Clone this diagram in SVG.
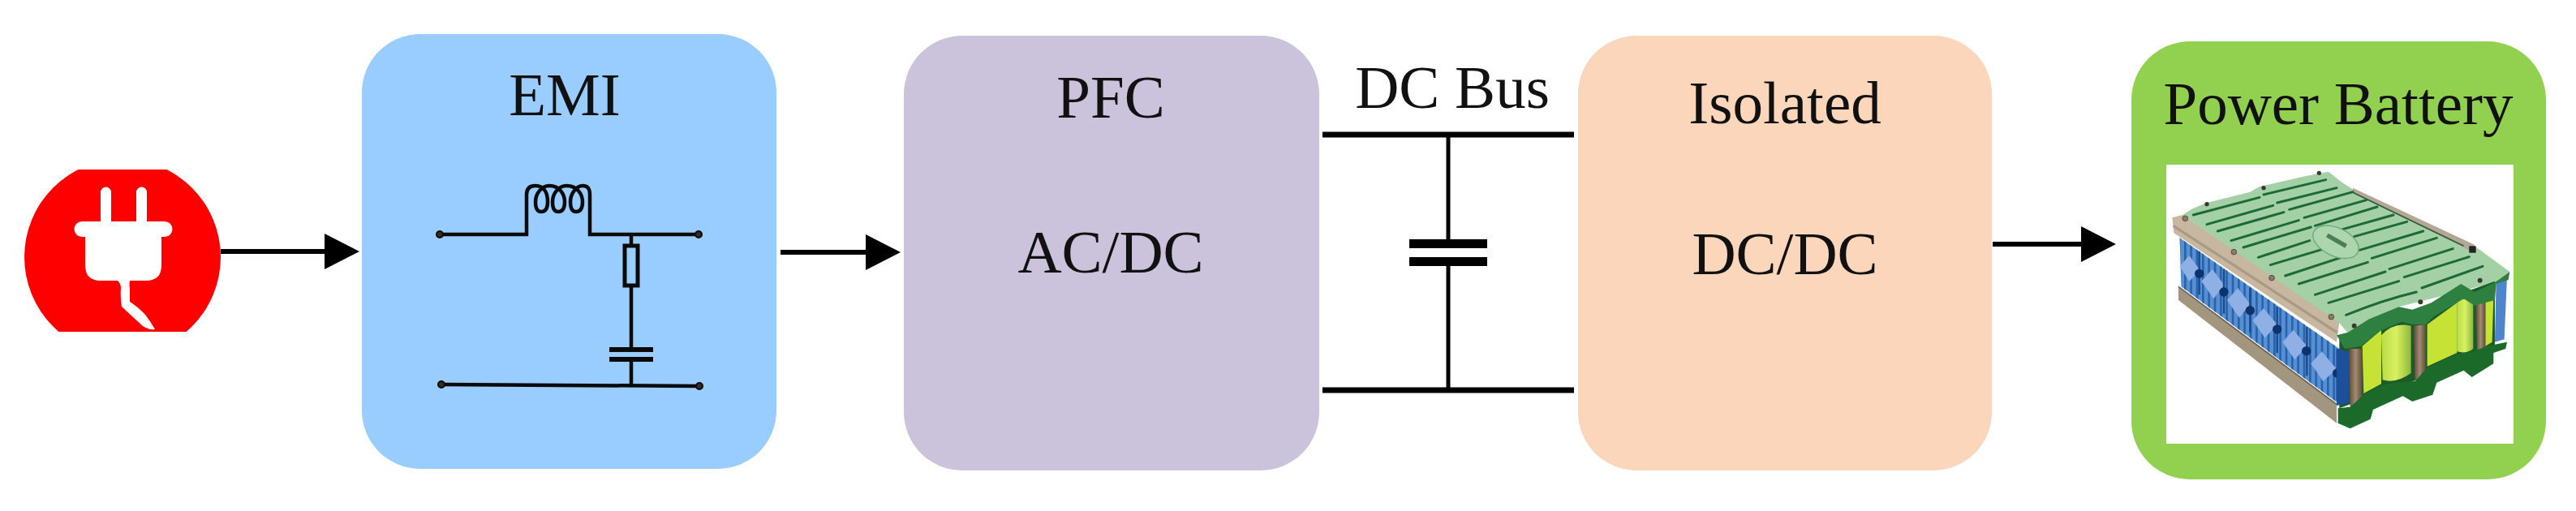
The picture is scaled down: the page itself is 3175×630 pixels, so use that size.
<svg xmlns="http://www.w3.org/2000/svg" width="3175" height="630" viewBox="0 0 3175 630">
<defs>
<marker id="ah" markerUnits="userSpaceOnUse" markerWidth="44" markerHeight="44" refX="0" refY="22" orient="auto"><path d="M0 0L43 22L0 44Z" fill="#000"/></marker>
<clipPath id="plugclip"><rect x="20" y="209" width="260" height="200"/></clipPath>
<pattern id="st" width="22" height="10" patternUnits="userSpaceOnUse"><rect width="8" height="10" fill="#2c62aa"/></pattern>
<linearGradient id="cyl" x1="0" x2="1" y1="0" y2="0"><stop offset="0" stop-color="#b8dc45"/><stop offset=".5" stop-color="#d9f060"/><stop offset="1" stop-color="#8fb83c"/></linearGradient>
<linearGradient id="post" x1="0" x2="1" y1="0" y2="0"><stop offset="0" stop-color="#5f4a38"/><stop offset=".5" stop-color="#a08a72"/><stop offset="1" stop-color="#5f4a38"/></linearGradient>
<filter id="soft" x="-5%" y="-5%" width="110%" height="110%"><feGaussianBlur stdDeviation="2"/></filter>
</defs>
<style>
text{font-family:"Liberation Serif","Times New Roman",serif;font-size:75px;fill:#111;text-anchor:middle}
.w{fill:none;stroke:#0a0a0a;stroke-width:4.500}
.b{fill:none;stroke:#000;stroke-width:7}
.a{stroke:#000;stroke-width:6;fill:none;marker-end:url(#ah)}
.dot{fill:#3a2a20;stroke:#0a0a0a;stroke-width:2}
.slot{stroke:#1d6a36;stroke-width:9;stroke-linecap:round;fill:none}
.label{fill:#c6e236}
.cyl{fill:url(#cyl)}
.post{fill:url(#post)}
.screw{fill:#3a3a30}
.rivet{fill:#8a7a66;stroke:#5a4c3c;stroke-width:3}
</style>
<rect width="3175" height="630" fill="#fff"/>
<g id="plug">
<circle cx="151" cy="317" r="121" fill="#f00" clip-path="url(#plugclip)"/>
<path d="M124 273V237a6.500 6.500 0 0 1 13 0V273H168V237a6.500 6.500 0 0 1 13 0V273H203a9.500 9.500 0 0 1 0 19H199V327Q199 346 180 346H160Q159 352 160 355V372Q172 380 179 388Q186 397 191 406Q183 407 176 402Q165 392 150 378Q148 365 149 355Q149 350 145 346H124Q105 346 105 327V292H101a9.500 9.500 0 0 1 0-19Z" fill="#fff"/>
</g>
<g id="emi">
<rect x="446" y="42" width="511" height="536" rx="72" fill="#99ccff"/>
<text x="696" y="142">EMI</text>
<path class="w" d="M542 289H649V240C649 232 653 229 660 229C672 229 675 240 675 249C675 258 672 261 667 261C662 261 660 256 660 249C660 238 668 229 677 229C690 229 696 240 696 249C696 258 693 261 688 261C683 261 681 256 681 249C681 238 689 229 698 229C712 229 718 240 718 249C718 258 715 261 710 261C705 261 703 256 703 249C703 238 711 229 718 229C724 229 727 232 727 240V289H861"/>
<path class="w" d="M778 289V302M778 353V431M778 443V475M544 474L862 476"/>
<rect x="770" y="303" width="16" height="49" fill="none" stroke="#0a0a0a" stroke-width="5"/>
<path d="M751 431H805M751 443H805" fill="none" stroke="#0a0a0a" stroke-width="6"/>
<circle class="dot" cx="542" cy="289" r="4"/><circle class="dot" cx="861" cy="289" r="4"/><circle class="dot" cx="544" cy="474" r="4"/><circle class="dot" cx="862" cy="476" r="4"/>
</g>
<g id="pfc">
<rect x="1114" y="44" width="512" height="536" rx="72" fill="#cbc2dc"/>
<text x="1369" y="145">PFC</text>
<text x="1369" y="336">AC/DC</text>
</g>
<g id="dcbus">
<text x="1790" y="133">DC Bus</text>
<path class="b" d="M1630 166H1940M1630 481H1940"/>
<path d="M1785 166V296M1785 327V481" fill="none" stroke="#000" stroke-width="5"/>
<rect x="1737" y="295" width="96" height="11"/><rect x="1737" y="317" width="96" height="11"/>
</g>
<g id="isolated">
<rect x="1945" y="44" width="510" height="536" rx="72" fill="#fbd6ba"/>
<text x="2200" y="152">Isolated</text>
<text x="2200" y="338">DC/DC</text>
</g>
<g id="battery">
<rect x="2627" y="51" width="511" height="540" rx="72" fill="#92d050"/>
<text x="2882" y="153">Power Battery</text>
<rect x="2670" y="203" width="428" height="344" fill="#fff"/>
<g transform="translate(2670 200) scale(.3333)" >
<g filter="url(#soft)">
<path d="M50 280L640 690V895L55 460Z" fill="#5590d4"/>
<path d="M50 280L640 690V895L55 460Z" fill="url(#st)"/>
<path d="M50 385L85 345L125 400L85 440ZM130 440L170 395L215 455L175 505ZM225 510L265 465L310 525L270 575ZM320 585L360 540L410 600L365 650ZM430 665L470 620L520 680L475 730ZM535 745L575 700L630 765L580 810Z" fill="#8fb0e4"/>
<path d="M122 330V490M213 395V560M310 465V630M410 535V705M520 610V790M632 690V880" stroke="#1a4888" stroke-width="7" fill="none"/>
<g fill="#10306c"><circle cx="122" cy="412" r="17"/><circle cx="213" cy="480" r="17"/><circle cx="310" cy="548" r="17"/><circle cx="410" cy="618" r="17"/><circle cx="518" cy="698" r="17"/><circle cx="632" cy="780" r="17"/></g>
<path d="M45 460L630 895V965L45 510Z" fill="#a3967e"/>
<path d="M45 460L630 895" stroke="#6e6250" stroke-width="5" fill="none"/>
<path d="M22 205L60 195L640 590L630 665L28 262Z" fill="#c7b6a0"/>
<path d="M26 235L632 630" stroke="#ab9a84" stroke-width="10" fill="none"/>
<path d="M100 170L150 150L310 110L345 90L520 50L600 35L650 75L690 100L1140 310L1270 405L1215 445L860 535L750 580L670 630L640 595L60 195Z" fill="#a4d0a6"/>
<path d="M690 95L1140 305L1135 335L1090 310L690 112Z" fill="#b5a795"/>
<path d="M690 112L1100 310" stroke="#2d5a38" stroke-width="5" fill="none"/>
<rect x="1120" y="310" width="25" height="25" fill="#222"/>
<path d="M640 650L1215 440V700L640 910Z" fill="#1c5a2a"/>
<path class="label" d="M725 680L795 620V820L730 855Z"/>
<path class="cyl" d="M795 640Q840 590 905 605V780Q850 820 800 805Z"/>
<path class="label" d="M965 600L1075 520V705L965 755Z"/>
<path class="cyl" d="M1075 510Q1110 500 1135 520V690Q1110 710 1075 700Z"/>
<path class="label" d="M1180 515L1210 500L1205 665L1180 680Z"/>
<path class="post" d="M675 690H725V905H680Z"/>
<path class="post" d="M915 605L960 600V810L920 805Z"/>
<path class="post" d="M1145 520L1180 515V710L1150 720Z"/>
<path d="M1220 440L1260 425L1250 655L1215 665Z" fill="#4f85cc"/>
<path d="M630 690L675 700V890L630 900Z" fill="#1c4f9c"/>
<path d="M670 630L750 580L860 535L910 545L980 520L1090 450L1140 480L1215 445L1270 405L1265 435L1220 450L1215 510L1140 530L1100 505L990 570L960 600L910 600L870 590L790 625L720 680L660 690L630 640Z" fill="#2f8040"/>
<path d="M635 910L680 905L730 860L795 825L850 815L920 810L965 760L1075 710L1135 700L1185 680L1260 665L1255 690L1210 705L1210 745L1130 795L1100 770L1000 815L985 860L910 885L875 865L765 915L755 950L680 985L635 965Z" fill="#1c6a2c"/>
</g>
<path class="slot" d="M100 195L345 130M150 230L395 160M190 255L435 185M240 290L490 215M285 315L535 240M340 352L530 290M385 380L585 320M440 420L700 335M490 450L745 370M550 490L810 405M600 520L860 440M665 565Q800 510 925 480M360 120L590 65M410 150L630 95M455 175L690 110M510 205L740 140M550 235L780 165M645 250L840 195M695 275L890 220M715 325L950 255M760 355L1000 280M825 395L1060 320M880 425L1120 350M945 465L1170 385"/>
<ellipse cx="627" cy="295" rx="90" ry="52" transform="rotate(25 627 295)" fill="#acd6ae" stroke="#6fa878" stroke-width="4"/>
<path d="M595 270L665 310" stroke="#4c7c58" stroke-width="16" fill="none"/>
<g class="rivet"><circle cx="70" cy="208" r="10"/><circle cx="250" cy="332" r="10"/><circle cx="390" cy="428" r="10"/><circle cx="610" cy="572" r="10"/></g>
<g class="screw"><circle cx="150" cy="155" r="8"/><circle cx="360" cy="95" r="8"/><circle cx="565" cy="40" r="8"/><circle cx="695" cy="605" r="9"/><circle cx="940" cy="517" r="9"/><circle cx="1160" cy="437" r="9"/></g>
</g>
</g>
<g id="connectors">
<path class="a" d="M272 310H400"/>
<path class="a" d="M962 311H1067"/>
<path class="a" d="M2456 301H2565"/>
</g>
</svg>
